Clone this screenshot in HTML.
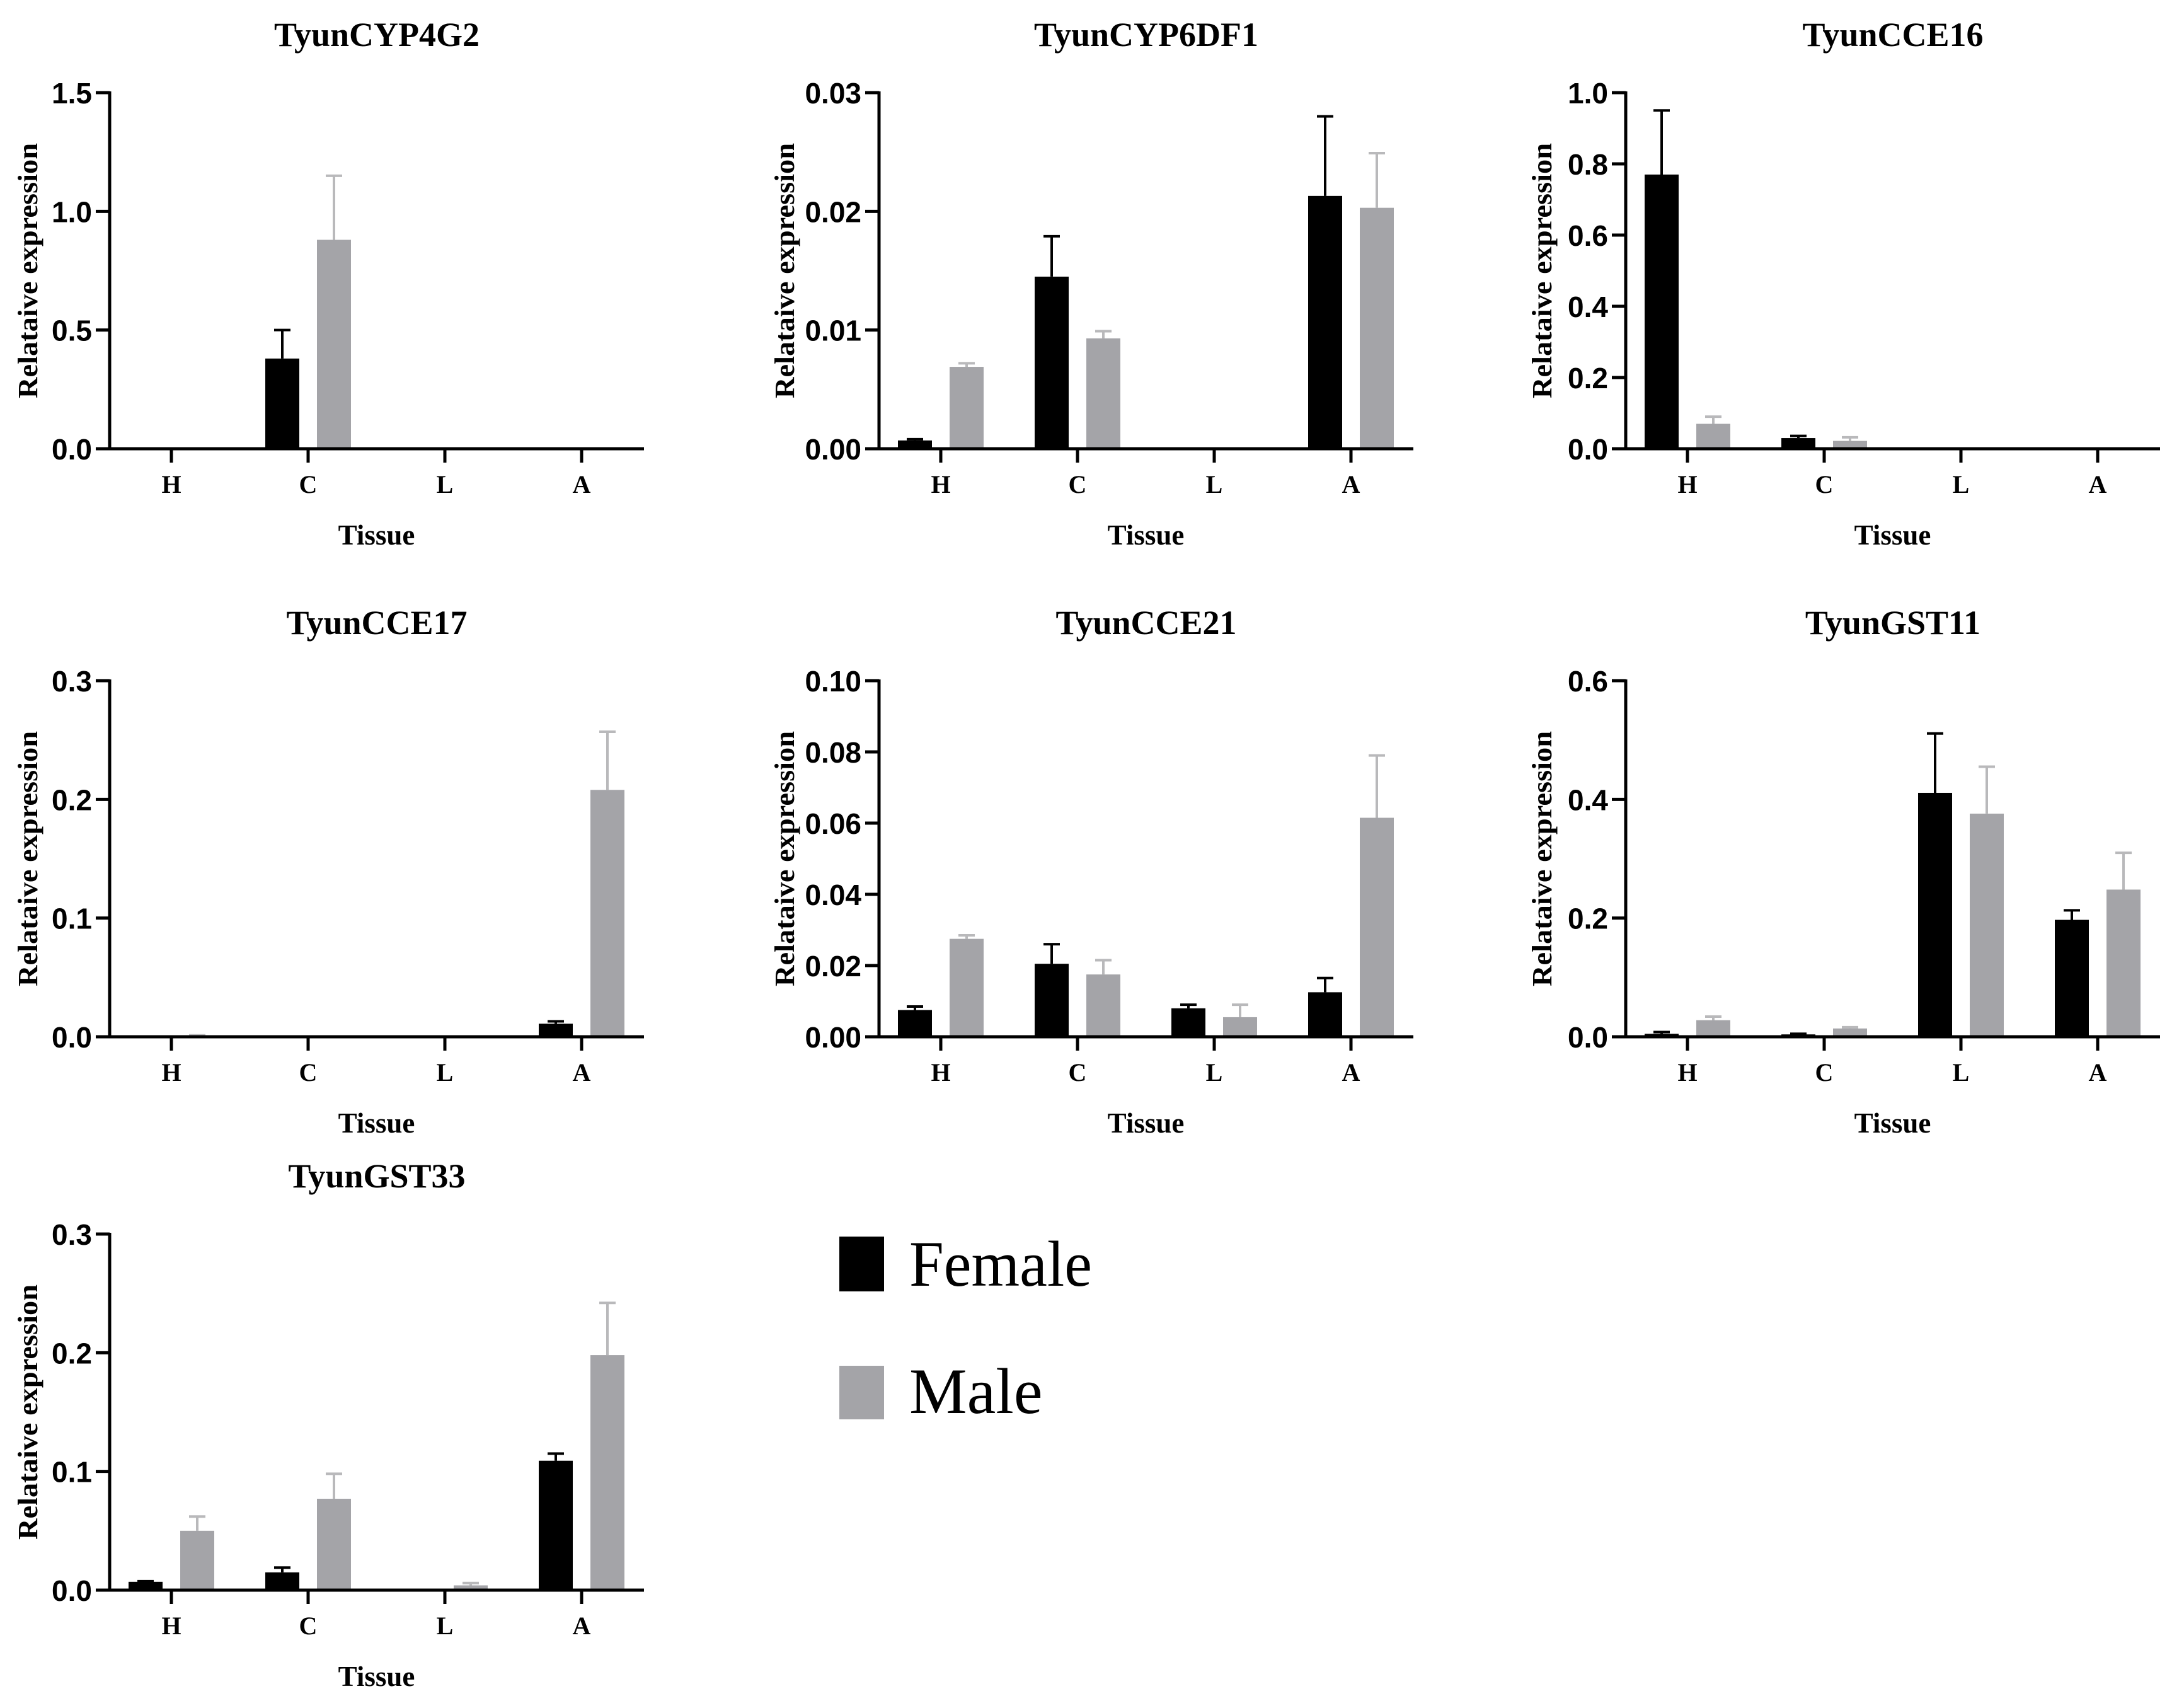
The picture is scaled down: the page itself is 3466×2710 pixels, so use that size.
<!DOCTYPE html>
<html><head><meta charset="utf-8">
<style>
html,body{margin:0;padding:0;background:#fff;}
svg{display:block;}
</style></head>
<body>
<svg id="fig" width="3466" height="2710" viewBox="0 0 3466 2710" xmlns="http://www.w3.org/2000/svg">
  <g id="legend">
    <rect x="1332" y="1962" width="71" height="87" fill="#000"/>
    <text x="1443" y="2040" font-family="'Liberation Serif',serif" font-size="103" textLength="290" lengthAdjust="spacingAndGlyphs">Female</text>
    <rect x="1332" y="2167" width="71" height="85" fill="#a4a4a8"/>
    <text x="1443" y="2242" font-family="'Liberation Serif',serif" font-size="103">Male</text>
  </g>
</svg>
<script>
const categories = ["H","C","L","A"];
const titles = ["TyunCYP4G2","TyunCYP6DF1","TyunCCE16","TyunCCE17","TyunCCE21","TyunGST11","TyunGST33"];
const yMax = [1.5, 0.03, 1.0, 0.3, 0.10, 0.6, 0.3];
const tickLabels = [
  ["0.0","0.5","1.0","1.5"],
  ["0.00","0.01","0.02","0.03"],
  ["0.0","0.2","0.4","0.6","0.8","1.0"],
  ["0.0","0.1","0.2","0.3"],
  ["0.00","0.02","0.04","0.06","0.08","0.10"],
  ["0.0","0.2","0.4","0.6"],
  ["0.0","0.1","0.2","0.3"]
];
const femaleVals = [
  [0,0.38,0,0],
  [0.0007,0.0145,0,0.0213],
  [0.77,0.03,0,0],
  [0,0,0,0.011],
  [0.0075,0.0205,0.008,0.0125],
  [0.005,0.004,0.411,0.197],
  [0.007,0.015,0,0.109]
];
const femaleErr = [
  [0,0.50,0,0],
  [0.0008,0.0179,0,0.028],
  [0.95,0.036,0,0],
  [0,0,0,0.013],
  [0.0085,0.026,0.009,0.0165],
  [0.008,0.005,0.511,0.213],
  [0.0075,0.019,0,0.115]
];
const maleVals = [
  [0,0.88,0,0],
  [0.0069,0.0093,0,0.0203],
  [0.07,0.022,0,0],
  [0.001,0,0,0.208],
  [0.0275,0.0175,0.0055,0.0615],
  [0.028,0.014,0.376,0.248],
  [0.05,0.077,0.004,0.198]
];
const maleErr = [
  [0,1.15,0,0],
  [0.0072,0.0099,0,0.0249],
  [0.09,0.032,0,0],
  [0.0012,0,0,0.257],
  [0.0285,0.0215,0.009,0.079],
  [0.034,0.016,0.455,0.31],
  [0.062,0.098,0.006,0.242]
];

const NS = "http://www.w3.org/2000/svg";
const svg = document.getElementById("fig");
const colAxis = [174, 1395, 2580];
const colLabelX = [59, 1260, 2462];
const rowTop = [147, 1080, 1958];
const plotH = 565, plotW = 848, firstTick = 98, spacing = 217, barW = 54, barOff = 41;
const serif = "'Liberation Serif',serif", sans = "'Liberation Sans',sans-serif";

function mk(tag, attrs, parent){
  const e = document.createElementNS(NS, tag);
  for (const k in attrs) e.setAttribute(k, attrs[k]);
  parent.appendChild(e);
  return e;
}

for (let p = 0; p < titles.length; p++) {
  const col = p % 3;
  const ax = colAxis[col], top = rowTop[Math.floor(p / 3)], zero = top + plotH;
  const yScale = v => zero - v / yMax[p] * plotH;
  const xScale = i => ax + firstTick + i * spacing;
  const g = mk("g", {}, svg);
  
  

  const t = mk("text", {x: ax + plotW/2, y: top - 74, "text-anchor": "middle", "font-family": serif, "font-weight": "bold", "font-size": 54}, g);
  
  
  t.textContent = titles[p];

  const yl = mk("text", {x: 0, y: 0, transform: `translate(${colLabelX[col]},${top + plotH/2}) rotate(-90)`, "text-anchor": "middle", "font-family": serif, "font-weight": "bold", "font-size": 44, textLength: 405, lengthAdjust: "spacingAndGlyphs"}, g);
  
  
  yl.textContent = "Relataive expression";

  const xl = mk("text", {x: xScale(1.5), y: zero + 152, "text-anchor": "middle", "font-family": serif, "font-weight": "bold", "font-size": 45}, g);
  
  
  xl.textContent = "Tissue";

  for (let i = 0; i < categories.length; i++) {
    const cx = xScale(i);
    const series = [[femaleVals[p][i], femaleErr[p][i], "#000", "#000", cx - barOff, 'female'],
                    [maleVals[p][i], maleErr[p][i], "#a4a4a8", "#b9b9bb", cx + barOff, 'male']];
    for (const [v, e, fill, ec, bx, nm] of series) {
      if (v <= 0) continue;
      if (e > v) {
        const el = mk("line", {x1: bx, x2: bx, y1: yScale(v), y2: yScale(e), stroke: ec, "stroke-width": 4}, g);
        
        
        const cap = mk("line", {x1: bx - 13, x2: bx + 13, y1: yScale(e), y2: yScale(e), stroke: ec, "stroke-width": 4}, g);
        
        
      }
      const r = mk("rect", {x: bx - barW/2, y: yScale(v), width: barW, height: zero - yScale(v), fill: fill}, g);
      
      
    }
  }

  const yAx = mk("line", {x1: ax, x2: ax, y1: top - 2, y2: zero + 2, stroke: "#000", "stroke-width": 5}, g);
  
  
  const xAx = mk("line", {x1: ax - 22, x2: ax + plotW, y1: zero, y2: zero, stroke: "#000", "stroke-width": 5}, g);
  
  

  const n = tickLabels[p].length;
  for (let k = 0; k < n; k++) {
    const v = yMax[p] * k / (n - 1);
    const y = yScale(v);
    const tk = mk("line", {x1: ax - 22, x2: ax, y1: y, y2: y, stroke: "#000", "stroke-width": 5}, g);
    
    
    const tl = mk("text", {x: ax - 28, y: y + 17, "text-anchor": "end", "font-family": sans, "font-weight": "bold", "font-size": 46}, g);
    
    
    tl.textContent = tickLabels[p][k];
  }
  for (let i = 0; i < categories.length; i++) {
    const x = xScale(i);
    const tk = mk("line", {x1: x, x2: x, y1: zero, y2: zero + 22, stroke: "#000", "stroke-width": 5}, g);
    
    
    const tl = mk("text", {x: x, y: zero + 70, "text-anchor": "middle", "font-family": serif, "font-weight": "bold", "font-size": 40}, g);
    
    
    tl.textContent = categories[i];
  }
}
</script>
</body></html>
